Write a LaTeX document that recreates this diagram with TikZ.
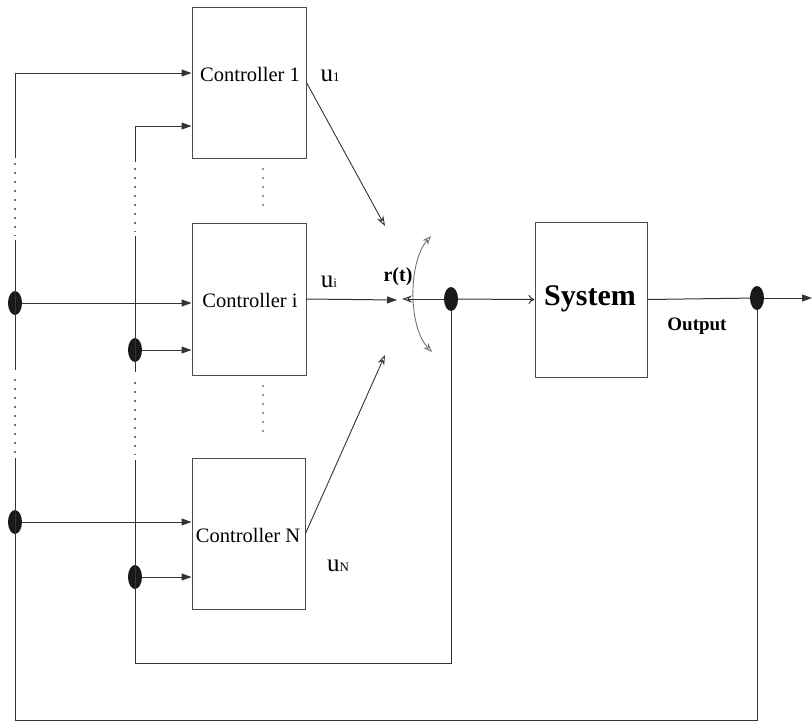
\documentclass[tikz,border=0pt]{standalone}
\usepackage{fontspec}
\setmainfont{Liberation Serif}
\usetikzlibrary{arrows.meta,shapes.geometric}
\begin{document}
\begin{tikzpicture}[x=1pt,y=-1pt,
  box/.style={draw=black!70, line width=1pt, inner sep=0pt},
  ln/.style={draw=black!80, line width=1pt},
  dln/.style={draw=black!55, line width=1.5pt, dash pattern=on 1.5pt off 7.5pt},
  dotn/.style={ellipse, fill=black!90, minimum width=14pt, minimum height=24pt, inner sep=0pt},
  ctext/.style={font=\fontsize{20.5}{23}\selectfont, inner sep=0pt},
  btext/.style={font=\bfseries\fontsize{20}{22}\selectfont, inner sep=0pt},
  ulab/.style={inner sep=0pt},
  fa/.style={-{Triangle[length=10pt,width=7pt]}},
  oa/.style={-{Stealth[open,length=10pt,width=7pt]}},
]
\useasboundingbox (0,0) rectangle (812,724);

% boxes
\node[box, minimum width=114pt, minimum height=151pt] (c1) at (249,82.5) {};
\node[box, minimum width=114pt, minimum height=152pt] (ci) at (249,299) {};
\node[box, minimum width=113pt, minimum height=151pt] (cN) at (248.5,533.5) {};
\node[box, minimum width=112pt, minimum height=155pt] (sys) at (591,299.5) {};

\node[ctext] (t1) at (250,74) {Controller 1};
\node[ctext] (ti) at (250,300) {Controller i};
\node[ctext] (tN) at (248,535) {Controller N};
\node[font=\bfseries\fontsize{30}{34}\selectfont, inner sep=0pt] (ts) at (590,299) {System};

% dots between controllers
\draw[dln, draw=black!40] (263,168) -- (263,206);
\draw[dln, draw=black!40] (263,385) -- (263,433);

% junction dots
\node[dotn] (dA) at (15,303) {};
\node[dotn] (dB) at (15,522) {};
\node[dotn] (dC) at (135,350) {};
\node[dotn] (dD) at (135,577) {};
\node[dotn] (dR) at (451,299) {};
\node[dotn] (dO) at (757,298) {};

% coordinates
\coordinate (L1) at (15,73);
\coordinate (L2) at (135,126);
\coordinate (a1) at (385,226);
\coordinate (ai) at (397,300);
\coordinate (aN) at (385,355);
\coordinate (ar) at (402,299);
\coordinate (arcT) at (431,236);
\coordinate (arcB) at (432,352);
\coordinate (outE) at (812,298);
\coordinate (bl1) at (15,720);
\coordinate (br1) at (757,720);
\coordinate (bl2) at (135,663);
\coordinate (br2) at (451,663);

% left outer line x=15
\draw[ln] (15,158) -- (L1);
\draw[ln,fa] (L1) -- (L1 -| c1.west);
\draw[dln] (15,163) -- (15,236);
\draw[ln] (15,240) -- (15,370);
\draw[dln] (15,379) -- (15,455);
\draw[ln] (15,458) -- (bl1) -- (br1) -- (dO);

% inner line x=135
\draw[ln] (135,162) -- (L2);
\draw[ln,fa] (L2) -- (L2 -| c1.west);
\draw[dln] (135,168) -- (135,232);
\draw[ln] (135,236) -- (135,372);
\draw[dln] (135,382) -- (135,455);
\draw[ln] (135,460) -- (bl2) -- (br2) -- (dR);

% inputs to controllers
\draw[ln,fa] (dA) -- (dA -| ci.west);
\draw[ln,fa] (dC) -- (dC -| ci.west);
\draw[ln,fa] (dB) -- (dB -| cN.west);
\draw[ln,fa] (dD) -- (dD -| cN.west);

% controller outputs
\draw[ln,line width=0.9pt,oa] (c1.east) -- (a1);
\draw[ln,fa] (ci.east) -- (ai);
\draw[ln,line width=0.9pt,oa] (cN.east) -- (aN);

% summing arc
\draw[draw=black!55, line width=0.9pt, {Stealth[open,length=9pt,width=7pt]}-{Stealth[open,length=9pt,width=7pt]}]
  (arcT) .. controls (408,262) and (408,327) .. (arcB);

% feedback into r(t)
\draw[ln,oa] (dR) -- (ar);
\draw[ln,-{To[length=6pt,width=9pt]}] (dR) -- (sys.west);
\draw[ln] (sys.east) -- (dO);
\draw[ln,fa] (dO) -- (outE);

% labels
\node[ulab] (u1) at (330,76) {{\fontsize{25}{28}\selectfont u}{\fontsize{13}{15}\selectfont 1}};
\node[ulab] (ui) at (329,282) {{\fontsize{25}{28}\selectfont u}{\fontsize{13}{15}\selectfont i}};
\node[ulab] (uN) at (338,566) {{\fontsize{25}{28}\selectfont u}{\fontsize{13}{15}\selectfont N}};
\node[btext] (rt) at (398,277) {r(t)};
\node[btext, font=\bfseries\fontsize{19}{22}\selectfont] (out) at (697,326) {Output};
\end{tikzpicture}
\end{document}
